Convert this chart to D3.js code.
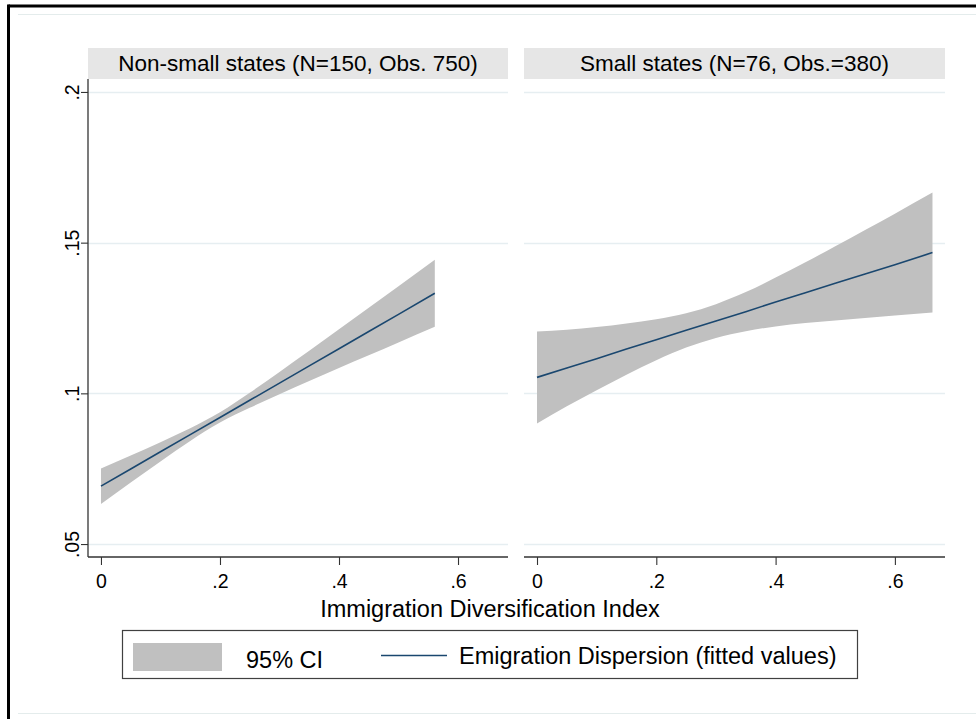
<!DOCTYPE html>
<html>
<head>
<meta charset="utf-8">
<script src="https://cdn.jsdelivr.net/npm/d3@7"></script>
<style>
  html, body { margin: 0; padding: 0; background: #fff; }
  svg text { font-family: "Liberation Sans", Arial, Helvetica, sans-serif; fill: #000; }
</style>
</head>
<body>
<svg id="chart" width="976" height="719"></svg>
<script>
// Panel titles
const panelTitles = ["Non-small states (N=150, Obs. 750)", "Small states (N=76, Obs.=380)"];

// Non-small states: fitted values and 95% CI
const xNonSmall   = [0, 0.05, 0.1, 0.15, 0.2, 0.25, 0.3, 0.35, 0.4, 0.45, 0.5, 0.561];
const fitNonSmall = [0.0692, 0.0749, 0.0806, 0.0863, 0.0920, 0.0977, 0.1034, 0.1091, 0.1148, 0.1205, 0.1262, 0.1332];
const loNonSmall  = [0.0633, 0.0704, 0.0774, 0.0842, 0.0903, 0.0952, 0.0997, 0.1041, 0.1084, 0.1126, 0.1169, 0.1221];
const hiNonSmall  = [0.0751, 0.0794, 0.0838, 0.0884, 0.0937, 0.1002, 0.1071, 0.1141, 0.1213, 0.1284, 0.1355, 0.1443];

// Small states: fitted values and 95% CI
const xSmall   = [0, 0.05, 0.1, 0.15, 0.2, 0.25, 0.3, 0.35, 0.4, 0.45, 0.5, 0.55, 0.6, 0.663];
const fitSmall = [0.1053, 0.1084, 0.1115, 0.1147, 0.1178, 0.1209, 0.1240, 0.1271, 0.1303, 0.1334, 0.1365, 0.1396, 0.1427, 0.1467];
const loSmall  = [0.0900, 0.0957, 0.1010, 0.1062, 0.1110, 0.1152, 0.1184, 0.1206, 0.1222, 0.1233, 0.1242, 0.1250, 0.1258, 0.1268];
const hiSmall  = [0.1205, 0.1211, 0.1220, 0.1232, 0.1246, 0.1266, 0.1296, 0.1336, 0.1384, 0.1435, 0.1488, 0.1542, 0.1596, 0.1666];

// Axis ticks
const xTicks = [0, 0.2, 0.4, 0.6];
const xTickLabels = ["0", ".2", ".4", ".6"];
const yTicks = [0.05, 0.1, 0.15, 0.2];
const yTickLabels = [".05", ".1", ".15", ".2"];

const xTitle = "Immigration Diversification Index";
const legendLabels = ["95% CI", "Emigration Dispersion (fitted values)"];

// Colours
const ciFill = "#c0c0c0";
const lineColor = "#1a476f";
const gridColor = "#e6eef1";
const stripFill = "#e6e6e6";

const svg = d3.select("#chart");

// Outer frame
svg.append("line").attr("x1", 8.5).attr("x2", 976).attr("y1", 6).attr("y2", 6)
  .attr("stroke", "#000").attr("stroke-width", 3);
svg.append("line").attr("x1", 8.5).attr("x2", 8.5).attr("y1", 4.5).attr("y2", 719)
  .attr("stroke", "#000").attr("stroke-width", 3);
svg.append("line").attr("x1", 18).attr("x2", 976).attr("y1", 14.5).attr("y2", 14.5)
  .attr("stroke", "#e4ecec").attr("stroke-width", 1);
svg.append("line").attr("x1", 18).attr("x2", 976).attr("y1", 713.5).attr("y2", 713.5)
  .attr("stroke", "#e4ecec").attr("stroke-width", 1);

const plotTop = 79, plotBottom = 557;
const stripTop = 48;

const panels = [
  { x0: 88, x1: 508, title: panelTitles[0], xs: xNonSmall, fit: fitNonSmall, lo: loNonSmall, hi: hiNonSmall, yAxis: true },
  { x0: 524, x1: 945, title: panelTitles[1], xs: xSmall, fit: fitSmall, lo: loSmall, hi: hiSmall, yAxis: false }
];

const y = d3.scaleLinear().domain([0.0457, 0.2043]).range([plotBottom, plotTop]);

panels.forEach(p => {
  const x = d3.scaleLinear().domain([-0.0218, 0.684]).range([p.x0, p.x1]);
  const g = svg.append("g");

  // Strip title
  g.append("rect").attr("x", p.x0).attr("y", stripTop)
    .attr("width", p.x1 - p.x0).attr("height", plotTop - stripTop)
    .attr("fill", stripFill);
  g.append("text").attr("x", (p.x0 + p.x1) / 2).attr("y", 71)
    .attr("text-anchor", "middle").style("font-size", "22.5px")
    .text(p.title);

  // Gridlines
  g.selectAll(".grid").data(yTicks).join("line")
    .attr("x1", p.x0).attr("x2", p.x1)
    .attr("y1", d => Math.round(y(d)) + 0.5).attr("y2", d => Math.round(y(d)) + 0.5)
    .attr("stroke", gridColor).attr("stroke-width", 1.3);

  // CI band
  const rows = p.xs.map((v, i) => ({ x: v, fit: p.fit[i], lo: p.lo[i], hi: p.hi[i] }));
  g.append("path").datum(rows)
    .attr("fill", ciFill)
    .attr("d", d3.area().x(d => x(d.x)).y0(d => y(d.lo)).y1(d => y(d.hi)).curve(d3.curveMonotoneX));

  // Fitted line
  g.append("path").datum(rows)
    .attr("fill", "none").attr("stroke", lineColor).attr("stroke-width", 1.6)
    .attr("d", d3.line().x(d => x(d.x)).y(d => y(d.fit)));

  // X axis
  const xAxis = d3.axisBottom(x).tickValues(xTicks)
    .tickFormat((d, i) => xTickLabels[i]).tickSize(8).tickSizeOuter(0).tickPadding(9);
  const xg = g.append("g").attr("transform", `translate(0,${plotBottom})`).call(xAxis);
  xg.select(".domain").attr("stroke", "#333").attr("stroke-width", 1.3)
    .attr("d", `M${p.x0},0H${p.x1}`);
  xg.selectAll(".tick line").attr("stroke", "#333").attr("stroke-width", 1.1);
  xg.selectAll(".tick text").style("font-size", "19.5px").attr("fill", "#000")
    .style("font-family", "Liberation Sans, Arial, sans-serif");

  // Y axis (left panel only), labels rotated as in the source graph
  if (p.yAxis) {
    const yAxis = d3.axisLeft(y).tickValues(yTicks)
      .tickFormat((d, i) => yTickLabels[i]).tickSize(7).tickSizeOuter(0).tickPadding(6);
    const yg = g.append("g").attr("transform", `translate(${p.x0},0)`).call(yAxis);
    yg.select(".domain").attr("stroke", "#333").attr("stroke-width", 1.3)
      .attr("d", `M0,${plotTop}V${plotBottom}`);
    yg.selectAll(".tick line").attr("stroke", "#333").attr("stroke-width", 1.1);
    yg.selectAll(".tick text")
      .style("font-size", "19.5px").attr("fill", "#000")
      .style("font-family", "Liberation Sans, Arial, sans-serif")
      .attr("text-anchor", "middle")
      .attr("x", null).attr("dy", null)
      .attr("transform", "translate(-9,0) rotate(-90)");
  }
});

// X axis title, centred on the graph region
svg.append("text").attr("x", 490).attr("y", 617)
  .attr("text-anchor", "middle").style("font-size", "23.5px").text(xTitle);

// Legend
const lg = svg.append("g");
lg.append("rect").attr("x", 122.5).attr("y", 630.5).attr("width", 735).attr("height", 48)
  .attr("fill", "#fff").attr("stroke", "#404040").attr("stroke-width", 1.2);
lg.append("rect").attr("x", 133).attr("y", 643).attr("width", 89).attr("height", 28)
  .attr("fill", ciFill);
lg.append("text").attr("x", 246).attr("y", 668).style("font-size", "23.5px").text(legendLabels[0]);
lg.append("line").attr("x1", 381).attr("x2", 447).attr("y1", 655.5).attr("y2", 655.5)
  .attr("stroke", lineColor).attr("stroke-width", 1.6);
lg.append("text").attr("x", 459).attr("y", 664).style("font-size", "23.5px").text(legendLabels[1]);
</script>
</body>
</html>
